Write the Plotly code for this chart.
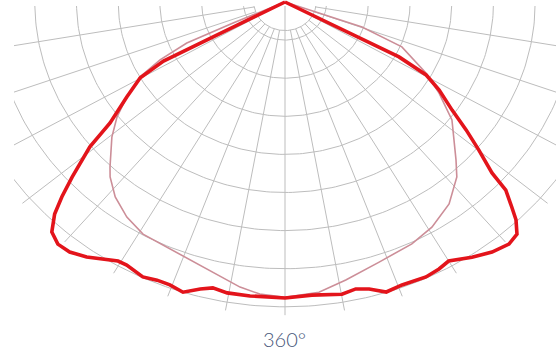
import numpy as np
import plotly.graph_objects as go

# ---------------------------------------------------------------------------
# Datos: diagrama polar de intensidad (angulo en grados desde la vertical,
# intensidad en unidades de anillo). Negativo = lado izquierdo.
# ---------------------------------------------------------------------------

red_angle = [-90, -62.0, -60.2, -56.7, -52.9, -50.9, -48.0, -46.3, -44.8, -42.8,
             -40.6, -38.2, -35.4, -32.2, -30.5, -28.8, -25.3, -22.8, -20.4,
             -17.8, -15.1, -13.0, -10.3, -6.2, 0, 4.8, 10.1, 12.7, 15.0, 17.7,
             20.7, 25.1, 27.8, 30.0, 33.8, 37.1, 40.2, 42.4, 44.1, 45.3, 47.0,
             47.9, 50.1, 52.3, 54.7, 58.0, 60.5, 62.2, 90]
red_value = [0, 3.3, 4.0, 4.54, 5.26, 6.03, 6.87, 7.40, 7.84, 8.23,
             8.37, 8.35, 8.21, 8.00, 7.89, 7.88, 7.98, 7.92, 7.92,
             8.00, 7.80, 7.70, 7.76, 7.76, 7.77, 7.72, 7.79, 7.72, 7.80, 7.99,
             7.94, 7.97, 7.92, 7.85, 8.06, 8.23, 8.32, 8.25, 7.96, 7.65, 7.24,
             6.69, 6.06, 5.49, 4.91, 4.36, 3.89, 3.09, 0]

pink_angle = [-90, -66.2, -65.4, -63.1, -60.5, -56.7, -53.2, -49.5, -44.1, -42.4,
              -38.5, -33.9, -29.2, -23.8, -18.7, -12.9, -8.2, -4.5, 0, 6.1, 11.3,
              18.3, 25.6, 30.8, 36.6, 41.9, 44.7, 52.3, 57.1, 61.1, 67.2, 70.4, 90]
pink_value = [0, 1.36, 2.59, 3.36, 4.0, 4.54, 5.03, 5.46, 6.03, 6.22,
              6.54, 6.80, 6.98, 7.03, 7.12, 7.32, 7.56, 7.69, 7.75, 7.66, 7.44,
              7.19, 7.04, 6.88, 6.60, 6.17, 5.83, 5.06, 4.40, 3.86, 3.04, 1.96, 0]

ring_values = [0.75, 1, 2, 3, 4, 5, 6, 7, 8]
spoke_angles = list(range(-90, 91, 10))
spoke_outer = 8.22
label = "360°"

# ---------------------------------------------------------------------------
# Geometria de la imagen (pixeles)
# ---------------------------------------------------------------------------
W, H = 558, 354
CX, CY = 285, 2          # centro
SX, SY = 41.7, 38.1      # pixeles por anillo (x, y)
CLIP_L, CLIP_R, CLIP_T = 14, 556, 6

GRID = "#bdbdbd"


def polar_xy(ang, val):
    a = np.radians(np.asarray(ang, dtype=float))
    v = np.asarray(val, dtype=float)
    return v * np.sin(a), -v * np.cos(a)


fig = go.Figure()

# Rejilla (subplot recortado)
t = np.linspace(0, 2 * np.pi, 361)
for r in ring_values:
    fig.add_trace(go.Scatter(x=r * np.cos(t), y=r * np.sin(t), mode="lines",
                             line=dict(color=GRID, width=1), hoverinfo="skip",
                             showlegend=False, xaxis="x", yaxis="y"))
for a in spoke_angles:
    r0 = 0 if a == 0 else ring_values[0]
    sx, sy = polar_xy([a, a], [r0, spoke_outer])
    fig.add_trace(go.Scatter(x=sx, y=sy, mode="lines",
                             line=dict(color=GRID, width=1), hoverinfo="skip",
                             showlegend=False, xaxis="x", yaxis="y"))

# Curvas
px_, py_ = polar_xy(pink_angle, pink_value)
fig.add_trace(go.Scatter(x=px_, y=py_, mode="lines",
                         line=dict(color="#cc8e98", width=1.6),
                         showlegend=False, xaxis="x2", yaxis="y2"))
rx_, ry_ = polar_xy(red_angle, red_value)
fig.add_trace(go.Scatter(x=rx_, y=ry_, mode="lines",
                         line=dict(color="#e3141b", width=3.6),
                         showlegend=False, xaxis="x2", yaxis="y2"))

axis_off = dict(showgrid=False, zeroline=False, showticklabels=False,
                ticks="", showline=False, fixedrange=True)

fig.update_layout(
    width=W, height=H,
    margin=dict(l=0, r=0, t=0, b=0),
    paper_bgcolor="white",
    plot_bgcolor="rgba(0,0,0,0)",
    xaxis=dict(domain=[CLIP_L / W, CLIP_R / W],
               range=[(CLIP_L - CX) / SX, (CLIP_R - CX) / SX], **axis_off),
    yaxis=dict(domain=[0, 1 - CLIP_T / H],
               range=[-(H - CY) / SY, -(CLIP_T - CY) / SY], **axis_off),
    xaxis2=dict(domain=[0, 1], anchor="y2",
                range=[-CX / SX, (W - CX) / SX], **axis_off),
    yaxis2=dict(domain=[0, 1], anchor="x2",
                range=[-(H - CY) / SY, CY / SY], **axis_off),
    annotations=[dict(text=label, xref="paper", yref="paper",
                      x=284 / W, y=1 - 339 / H, xanchor="center", yanchor="middle",
                      showarrow=False,
                      font=dict(family="Lato, Roboto, sans-serif", size=20,
                                color="#48577a", weight=300))],
)

# la pagina trae margen de 8px en el body; lo quitamos
fig.write_html("out.html", config={"displayModeBar": False},
               post_script="document.body.style.margin='0';")
